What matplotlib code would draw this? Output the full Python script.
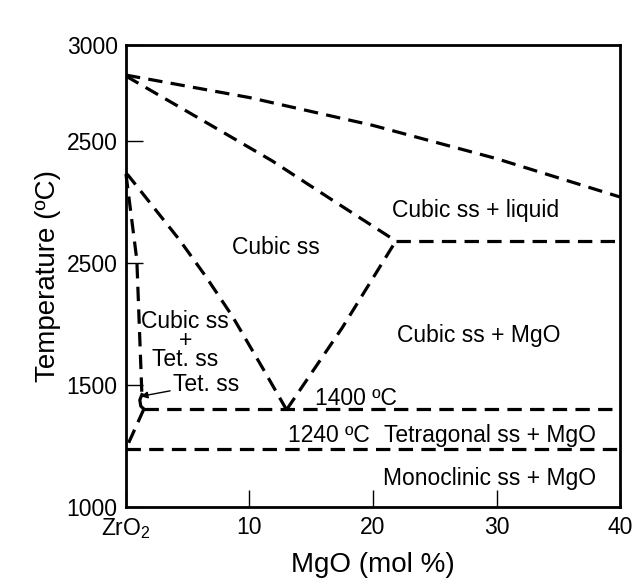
import matplotlib.pyplot as plt

plt.rcParams['font.family'] = ['Liberation Sans', 'DejaVu Sans']
plt.rcParams['mathtext.default'] = 'regular'

# phase boundaries (MgO mol %, temperature degC)
liquidus_x = [0, 10, 20, 30, 40]
liquidus_t = [2770, 2678, 2564, 2428, 2271]

solidus_x = [0, 6.7, 11.8, 16.6, 21.85]
solidus_t = [2766, 2570, 2420, 2262, 2091]

eutectic_x = [21.85, 40]
eutectic_t = [2091, 2091]

cubic_left_x = [0, 0.16, 4.34, 6.43, 8.6, 11.2, 13.0]
cubic_left_t = [2365, 2361, 2095, 1948, 1784, 1559, 1400]

cubic_right_x = [13.0, 17.5, 21.85]
cubic_right_t = [1400, 1735, 2091]

tet_left_x = [0, 0.88, 1.29]
tet_left_t = [2365, 2013, 1462]

tet_ss_x = [1.29, 1.12, 1.2, 1.45]
tet_ss_t = [1462, 1440, 1415, 1403]

tet_low_x = [1.45, 0]
tet_low_t = [1403, 1240]

line1400_x = [1.45, 40]
line1400_t = [1403, 1403]

line1240_x = [0, 40]
line1240_t = [1240, 1240]

xticks = [0, 10, 20, 30, 40]
xticklabels = ['ZrO$_2$', '10', '20', '30', '40']
yticks = [1000, 1500, 2000, 2500, 2893]
yticklabels = ['1000', '1500', '2500', '2500', '3000']

fig = plt.figure(figsize=(6.33, 5.85), dpi=100)
ax = fig.add_axes([0.199, 0.1325, 0.7805, 0.7905])

dash = (0, (4.5, 2.6))
for xs, ts in [(liquidus_x, liquidus_t), (solidus_x, solidus_t),
               (eutectic_x, eutectic_t), (cubic_left_x, cubic_left_t),
               (cubic_right_x, cubic_right_t), (tet_left_x, tet_left_t),
               (tet_low_x, tet_low_t), (line1400_x, line1400_t),
               (line1240_x, line1240_t)]:
    ax.plot(xs, ts, color='black', lw=2.3, linestyle=dash, clip_on=False)
ax.plot(tet_ss_x, tet_ss_t, color='black', lw=2.3, clip_on=False)

fs = 16.5
ax.text(28.3, 2214, 'Cubic ss + liquid', fontsize=fs, ha='center', va='center')
ax.text(12.1, 2066, 'Cubic ss', fontsize=fs, ha='center', va='center')
ax.text(28.6, 1702, 'Cubic ss + MgO', fontsize=fs, ha='center', va='center')
ax.text(4.8, 1683, 'Cubic ss\n+\nTet. ss', fontsize=fs, ha='center', va='center',
        linespacing=0.78)
ax.annotate('Tet. ss', xy=(1.2, 1455), xytext=(3.8, 1505), fontsize=fs,
            ha='left', va='center',
            arrowprops=dict(arrowstyle='-|>', color='black', lw=1.0,
                            mutation_scale=10, shrinkA=0, shrinkB=0))
ax.text(18.6, 1448, '1400 ºC', fontsize=fs, ha='center', va='center')
ax.text(16.4, 1296, '1240 ºC', fontsize=fs, ha='center', va='center')
ax.text(29.5, 1296, 'Tetragonal ss + MgO', fontsize=fs, ha='center', va='center')
ax.text(29.4, 1120, 'Monoclinic ss + MgO', fontsize=fs, ha='center', va='center')

ax.set_xlim(0, 40)
ax.set_ylim(1000, 2893)
ax.set_xticks(xticks)
ax.set_xticklabels(xticklabels)
ax.set_yticks(yticks)
ax.set_yticklabels(yticklabels)
ax.tick_params(direction='in', length=12, width=1.0, labelsize=fs, pad=6)
for s in ax.spines.values():
    s.set_linewidth(2.0)

ax.set_xlabel('MgO (mol %)', fontsize=20, labelpad=8)
ax.set_ylabel('Temperature (ºC)', fontsize=20, labelpad=4)

fig.savefig('out.png', dpi=100)
